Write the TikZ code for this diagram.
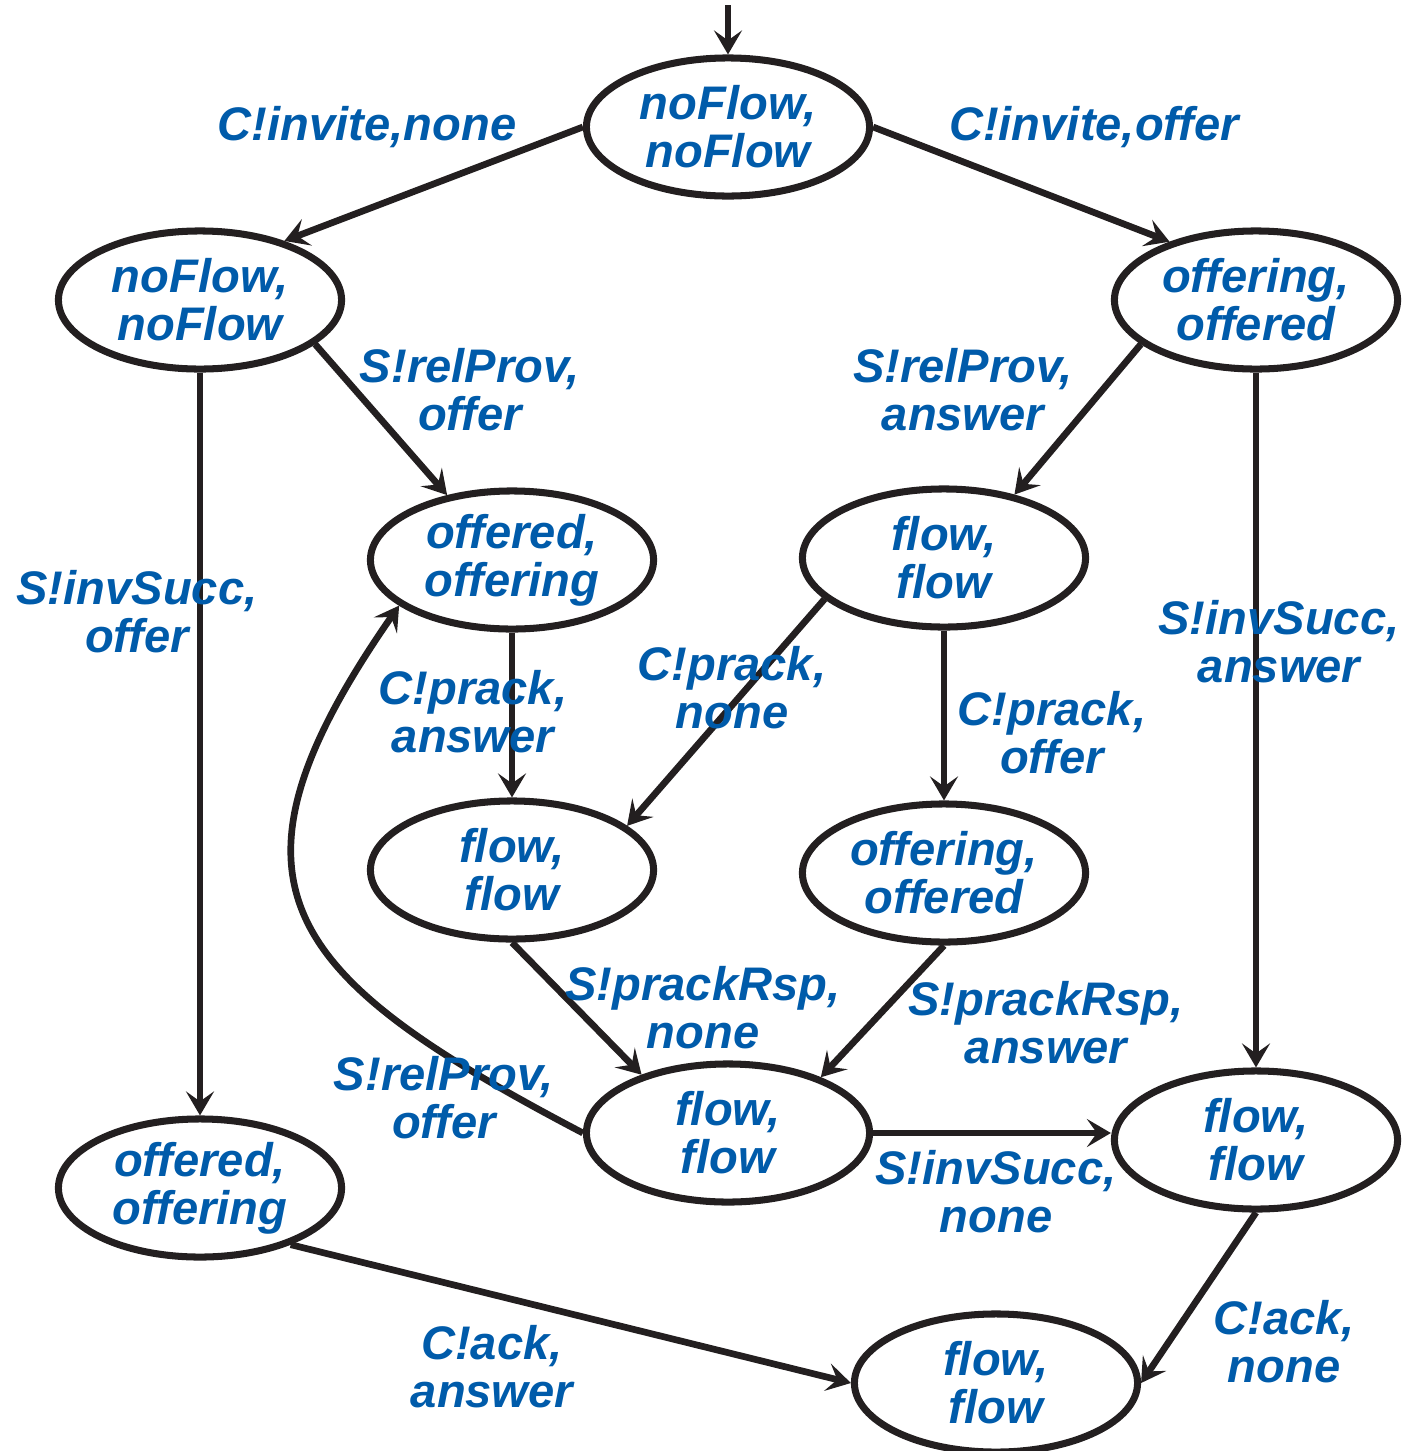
\documentclass[tikz,border=0pt]{standalone}
\usepackage{fontspec}
\setmainfont{Liberation Sans}
\usepackage{tikz}
\usetikzlibrary{shapes.geometric, arrows.meta}
\definecolor{txtblue}{RGB}{0,91,170}
\definecolor{ink}{RGB}{35,31,32}

\begin{document}
\begin{tikzpicture}[x=0.01cm, y=-0.01cm,
	st/.style={ellipse, draw=ink, line width=2pt, minimum width=2.83cm, minimum height=1.38cm, inner sep=0pt, align=center, text=txtblue, font=\fontsize{13.4pt}{13.6pt}\selectfont\bfseries\itshape},
	lab/.style={align=center, inner sep=0pt, text=txtblue, font=\fontsize{13.4pt}{13.6pt}\selectfont\bfseries\itshape},
	tr/.style={draw=ink, line width=1.9pt, ->},
	>={Stealth[length=0.24cm, width=0.28cm, inset=0.1cm]}]
		\useasboundingbox (0,0) rectangle (1412,1451);
		% states
		\node at (728,127) [st] (T) {noFlow,\\noFlow};
		\node at (200,300) [st] (L1) {noFlow,\\noFlow};
		\node at (1256,300) [st] (R1) {offering,\\offered};
		\node at (512,560) [st] (OO) {offered,\\offering};
		\node at (944,558) [st] (FF1) {flow,\\flow};
		\node at (512,870) [st] (FF2) {flow,\\flow};
		\node at (944,873) [st] (OF) {offering,\\offered};
		\node at (728,1133) [st] (FF3) {flow,\\flow};
		\node at (1256,1140) [st] (FF4) {flow,\\flow};
		\node at (200,1188) [st] (OO2) {offered,\\offering};
		\node at (996,1383) [st] (FF5) {flow,\\flow};
		\coordinate (init) at (728,5);
		% transitions
		\draw[tr] (init) -- (T.north);
		\draw[tr] (T.west) -- (L1.35);
		\node at (367,127) [lab] (l1) {C!invite,none};
		\draw[tr] (T.east) -- (R1.146);
		\node at (1094,127) [lab] (l2) {C!invite,offer};
		\draw[tr] (L1.-21) -- (OO.135);
		\node at (470,390) [lab] (l3) {S!relProv,\\offer};
		\draw[tr] (R1.-159) -- (FF1.42);
		\node at (963,390) [lab] (l4) {S!relProv,\\answer};
		\draw[tr] (L1.south) -- (OO2.north);
		\node at (137,612) [lab] (l5) {S!invSucc,\\offer};
		\draw[tr] (R1.south) -- (FF4.north);
		\node at (1279,642) [lab] (l6) {S!invSucc,\\answer};
		\draw[tr] (OO.south) -- (FF2.north);
		\node at (473,712) [lab] (l7) {C!prack,\\answer};
		\draw[tr] (FF1.-161) -- (FF2.21);
		\node at (732,688) [lab] (l8) {C!prack,\\none};
		\draw[tr] (FF1.south) -- (OF.north);
		\node at (1052,733) [lab] (l9) {C!prack,\\offer};
		\draw[tr] (FF2.south) -- (FF3.146);
		\node at (703,1008) [lab] (l10) {S!prackRsp,\\none};
		\draw[tr] (OF.south) -- (FF3.31);
		\node at (1046,1023) [lab] (l11) {S!prackRsp,\\answer};
		\draw[tr] (FF3.west) .. controls (282,975) and (205,885) .. (OO.-158);
		\node at (444,1098) [lab] (l12) {S!relProv,\\offer};
		\draw[tr] (FF3.east) -- (FF4.west |- FF3.east);
		\node at (996,1192) [lab] (l13) {S!invSucc,\\none};
		\draw[tr] (OO2.-32) -- (FF5.west);
		\node at (492,1367) [lab] (l14) {C!ack,\\answer};
		\draw[tr] (FF4.south) -- (FF5.east);
		\node at (1284,1342) [lab] (l15) {C!ack,\\none};
\end{tikzpicture}
\end{document}
